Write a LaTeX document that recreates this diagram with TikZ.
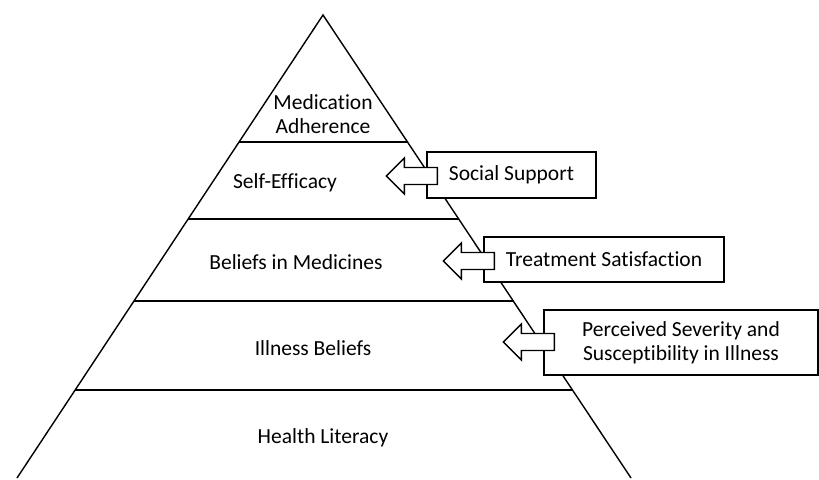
\documentclass[tikz,border=0pt]{standalone}
\usepackage{fontspec}
\setmainfont{Carlito}[Ligatures=NoCommon]
\usetikzlibrary{calc}

\begin{document}
\begin{tikzpicture}[
    x=0.025cm, y=-0.025cm,
    edge/.style={line width=1pt, black},
    layer/.style={align=center, inner sep=0pt, font=\fontsize{15.3}{17}\selectfont},
    factor/.style={rectangle, draw, line width=1pt, fill=white, align=center, inner sep=2pt, font=\fontsize{15.3}{17}\selectfont},
    blockarrow/.style={draw, line width=1pt, fill=white, line join=miter}
]

% Canvas
\useasboundingbox (0, 0) rectangle (819, 479);

% Pyramid outline
\coordinate (apex) at (323, 15);
\coordinate (baseL) at (17, 478);
\coordinate (baseR) at (631, 478);
\draw[edge] (baseL) -- (apex) -- (baseR);

% Layer boundaries
\foreach \t in {0.2743, 0.4406, 0.6177, 0.8099}
    \draw[edge] ($(apex)!\t!(baseL)$) -- ($(apex)!\t!(baseR)$);

% Layers
\node[layer] (adherence) at (323, 114) {Medication\\Adherence};
\node[layer] (efficacy) at (285, 183) {Self-Efficacy};
\node[layer] (medicines) at (296, 262) {Beliefs in Medicines};
\node[layer] (illness) at (313, 348) {Illness Beliefs};
\node[layer] (literacy) at (323, 438) {Health Literacy};

% Influencing factors
\node[factor, minimum width=169*0.025cm, minimum height=46*0.025cm] (social) at (511.5, 175) {Social Support};
\node[factor, minimum width=240*0.025cm, minimum height=45*0.025cm] (satisfaction) at (604, 259.5) {Treatment Satisfaction};
\node[factor, minimum width=274*0.025cm, minimum height=65*0.025cm] (severity) at (681, 342.5) {Perceived Severity and\\Susceptibility in Illness};

% Block arrows pointing into the pyramid
\foreach \f/\dy in {social/1, satisfaction/1.5, severity/-0.5}
    \draw[blockarrow] ([shift={(11, \dy)}]\f.west) -- ++(0, -8.5) -- ++(-33, 0) -- ++(0, -9.5)
        -- ++(-18, 18) -- ++(18, 18) -- ++(0, -9.5) -- ++(33, 0) -- cycle;

\end{tikzpicture}
\end{document}
